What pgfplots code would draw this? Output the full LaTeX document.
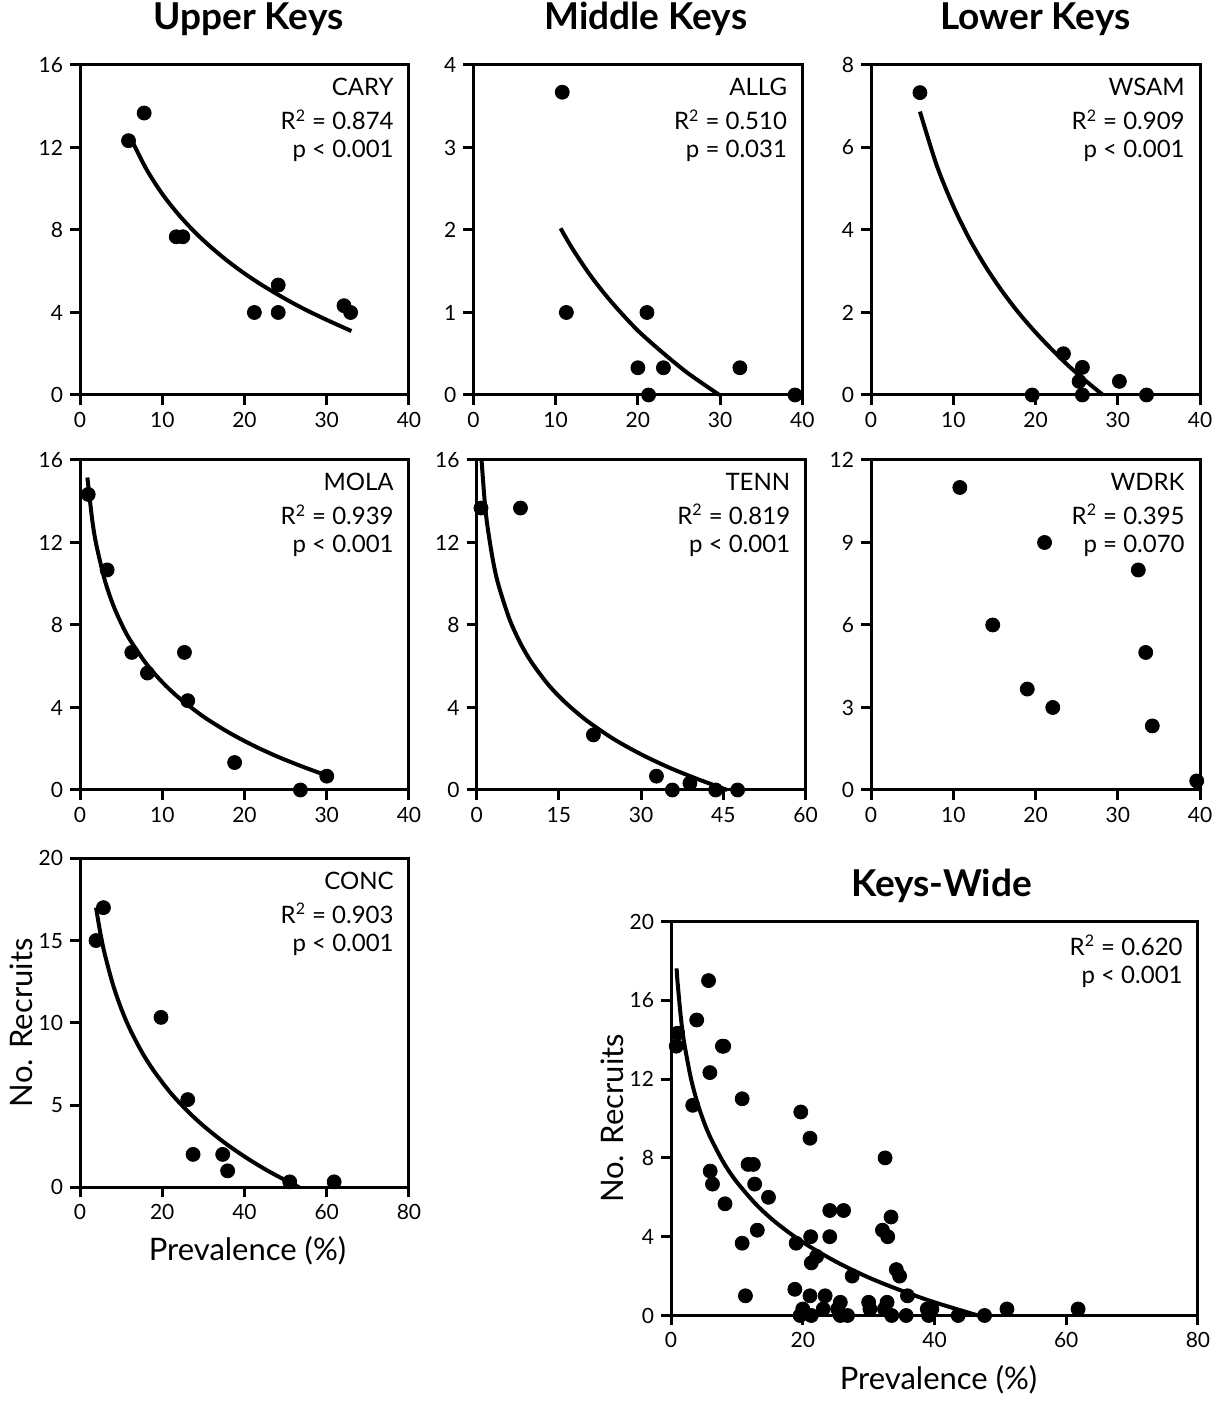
\documentclass[border=0pt]{standalone}
\usepackage{fontspec}
\setmainfont{Lato}
\usepackage{pgfplots}
\usepackage{pgfplotstable}
\pgfplotsset{compat=1.18}

% recruits vs prevalence, one table per site
\pgfplotstableread{
x y
5.9 12.33
7.8 13.67
11.7 7.67
12.5 7.67
21.2 4.00
24.1 5.33
24.1 4.00
32.1 4.33
32.9 4.00
}\cary
\pgfplotstableread{
x y
10.8 3.67
11.3 1.00
20.0 0.33
21.1 1.00
21.3 0.00
23.1 0.33
32.4 0.33
39.1 0.00
}\allg
\pgfplotstableread{
x y
5.95 7.33
19.6 0.00
23.4 1.00
25.7 0.67
25.3 0.33
25.7 0.00
30.2 0.33
33.5 0.00
}\wsam
\pgfplotstableread{
x y
1.0 14.33
3.3 10.67
6.3 6.67
8.2 5.67
12.7 6.67
13.1 4.33
18.8 1.33
26.8 0.00
30.0 0.67
}\mola
\pgfplotstableread{
x y
0.8 13.67
8.0 13.67
21.3 2.67
32.8 0.67
35.7 0.00
38.9 0.33
43.6 0.00
47.6 0.00
}\tenn
\pgfplotstableread{
x y
10.8 11.00
14.8 6.00
19.0 3.67
21.1 9.00
22.1 3.00
32.5 8.00
33.4 5.00
34.2 2.33
39.6 0.33
}\wdrk
\pgfplotstableread{
x y
3.9 15.00
5.7 17.00
19.7 10.33
26.2 5.33
27.5 2.00
34.7 2.00
35.9 1.00
51.0 0.33
61.8 0.33
}\conc

% fitted curves
\pgfplotstableread{
x y
6 12.60
8 11.00
10 9.75
12 8.74
14 7.88
16 7.14
18 6.48
20 5.89
22 5.36
24 4.88
26 4.43
28 4.02
30 3.64
33 3.10
}\caryfit
\pgfplotstableread{
x y
10.6 2.02
12 1.78
14 1.48
16 1.22
18 0.99
20 0.78
22 0.60
24 0.43
26 0.27
28 0.13
29.9 0.00
}\allgfit
\pgfplotstableread{
x y
5.95 6.87
8 5.56
10 4.58
12 3.77
14 3.09
16 2.50
18 1.98
20 1.52
22 1.10
24 0.71
26 0.36
28.2 0.00
}\wsamfit
\pgfplotstableread{
x y
0.9 15.15
1.5 13.05
2 11.86
3 10.19
4 9.00
5 8.09
6 7.33
8 6.15
10 5.23
12 4.48
15 3.56
18 2.81
21 2.17
24 1.62
27 1.14
30 0.70
}\molafit
\pgfplotstableread{
x y
0.9 16.00
1.5 13.92
2 12.75
3 11.10
4 9.93
6 8.28
8 7.11
10 6.20
13 5.13
16 4.29
20 3.38
25 2.47
30 1.73
35 1.10
40 0.56
45.7 0.00
}\tennfit
\pgfplotstableread{
x y
3.9 17.00
5 15.38
6 14.20
8 12.33
10 10.88
12 9.69
15 8.24
18 7.06
22 5.75
26 4.67
30 3.74
35 2.74
40 1.87
45 1.10
50 0.42
53.3 0.00
}\concfit
\pgfplotstableread{
x y
0.85 17.62
1 16.90
1.5 15.12
2 13.85
3 12.07
4 10.80
5 9.82
6 9.02
8 7.75
10 6.77
13 5.61
16 4.70
20 3.72
25 2.74
30 1.93
35 1.26
40 0.67
46.6 0.00
}\widefit

\newcommand\ticksize{\fontsize{10.5}{12.5}\selectfont}
\newcommand\notesize{\fontsize{12}{14}\selectfont}
\newcommand\labelsize{\fontsize{15.5}{18}\selectfont}
\newcommand\titlesize{\fontsize{18.5}{21}\selectfont}

\pgfplotsset{
  panel/.style={
    scale only axis, anchor=south west,
    width=164.5pt, height=165pt,
    xmin=0, ymin=0, clip=false,
    axis line style={line width=1.5pt},
    every tick/.style={line width=1.5pt, black},
    major tick length=5pt,
    tick align=outside, tick pos=left,
    ticklabel style={font=\ticksize},
    /pgf/number format/assume math mode=true,
    title style={font=\titlesize\bfseries, at={(axis description cs:0.5,1)}, anchor=base, yshift=11.5pt},
    xlabel style={font=\labelsize, at={(axis description cs:0.5,0)}, anchor=base, yshift=-36.5pt},
    ylabel style={font=\labelsize, at={(axis description cs:-0.178,0.5)}, anchor=center},
  },
  dots/.style={only marks, mark=*, mark size=3.5pt, black},
  fit/.style={no marks, black, line width=2pt, smooth},
}

\newcommand\note[1]{\node[anchor=north east, align=right, inner sep=0pt, font=\notesize,
  xshift=-7.5pt, yshift=-6.5pt] at (rel axis cs:1,1) {#1};}

\begin{document}
\begin{tikzpicture}
\useasboundingbox (0,0) rectangle (612pt,700.5pt);

% ---- row 1
\begin{axis}[panel, at={(40pt,503pt)}, xmax=40, ymax=16,
  xtick={0,10,...,40}, ytick={0,4,...,16},
  title={Upper Keys}, title style={xshift=2pt}]
\addplot[dots] table {\cary};
\addplot[fit] table {\caryfit};
\note{CARY\\[3pt]R\textsuperscript{2} = 0.874\\p < 0.001}
\end{axis}

\begin{axis}[panel, at={(236.7pt,503pt)}, xmax=40, ymax=4,
  xtick={0,10,...,40}, ytick={0,1,...,4},
  title={Middle Keys}, title style={xshift=4pt}]
\addplot[dots] table {\allg};
\addplot[fit] table {\allgfit};
\note{ALLG\\[3pt]R\textsuperscript{2} = 0.510\\p = 0.031}
\end{axis}

\begin{axis}[panel, at={(435.5pt,503pt)}, xmax=40, ymax=8,
  xtick={0,10,...,40}, ytick={0,2,...,8},
  title={Lower Keys}]
\addplot[dots] table {\wsam};
\addplot[fit] table {\wsamfit};
\note{WSAM\\[3pt]R\textsuperscript{2} = 0.909\\p < 0.001}
\end{axis}

% ---- row 2
\begin{axis}[panel, at={(40pt,305.5pt)}, xmax=40, ymax=16,
  xtick={0,10,...,40}, ytick={0,4,...,16}]
\addplot[dots] table {\mola};
\addplot[fit] table {\molafit};
\note{MOLA\\[3pt]R\textsuperscript{2} = 0.939\\p < 0.001}
\end{axis}

\begin{axis}[panel, at={(238.3pt,305.5pt)}, xmax=60, ymax=16,
  xtick={0,15,...,60}, ytick={0,4,...,16}]
\addplot[dots] table {\tenn};
\addplot[fit] table {\tennfit};
\note{TENN\\[3pt]R\textsuperscript{2} = 0.819\\p < 0.001}
\end{axis}

\begin{axis}[panel, at={(435.5pt,305.5pt)}, xmax=40, ymax=12,
  xtick={0,10,...,40}, ytick={0,3,...,12}]
\addplot[dots] table {\wdrk};
\note{WDRK\\[3pt]R\textsuperscript{2} = 0.395\\p = 0.070}
\end{axis}

% ---- row 3
\begin{axis}[panel, at={(40pt,106.85pt)}, height=164.5pt, xmax=80, ymax=20,
  xtick={0,20,...,80}, ytick={0,5,...,20},
  xlabel={Prevalence (\%)}, ylabel={No. Recruits},
  xlabel style={xshift=1.5pt}]
\addplot[dots] table {\conc};
\addplot[fit] table {\concfit};
\note{CONC\\[3pt]R\textsuperscript{2} = 0.903\\p < 0.001}
\end{axis}

\begin{axis}[panel, at={(335.5pt,42.75pt)}, width=263.5pt, height=197pt,
  xmax=80, ymax=20, xtick={0,20,...,80}, ytick={0,4,...,20},
  title={Keys-Wide}, title style={yshift=-5.15pt, xshift=3.5pt},
  xlabel={Prevalence (\%)}, ylabel={No. Recruits},
  xlabel style={yshift=-0.75pt, xshift=2pt},
  ylabel style={at={(axis description cs:-0.112,0.5)}}]
\addplot[dots] table {\cary};
\addplot[dots] table {\allg};
\addplot[dots] table {\wsam};
\addplot[dots] table {\mola};
\addplot[dots] table {\tenn};
\addplot[dots] table {\wdrk};
\addplot[dots] table {\conc};
\addplot[fit] table {\widefit};
\note{R\textsuperscript{2} = 0.620\\p < 0.001}
\end{axis}

\end{tikzpicture}
\end{document}
